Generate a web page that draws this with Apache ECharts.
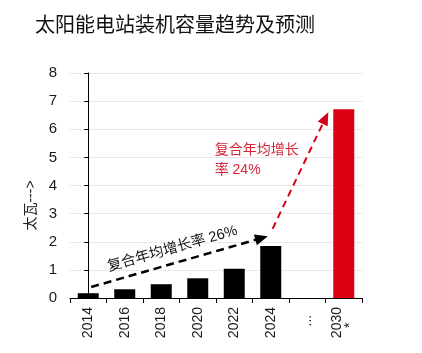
<!DOCTYPE html>
<html>
<head>
<meta charset="utf-8">
<script src="https://cdn.jsdelivr.net/npm/echarts@6/dist/echarts.min.js"></script>
<style>html,body{margin:0;padding:0;background:#fff;}#c{width:422px;height:353px;}</style>
</head>
<body>
<div id="c"></div>
<script>
var categories = ['2014', '2016', '2018', '2020', '2022', '2024', '...', '2030*'];
var capacity = [0.17, 0.31, 0.49, 0.70, 1.04, 1.85, null, 6.71];
var yTicks = [0, 1, 2, 3, 4, 5, 6, 7, 8];
var titleText = '太阳能电站装机容量趋势及预测';
var yName = '太瓦--->';
var cagrHistText = '复合年均增长率 26%';
var cagrForecastText = '复合年均增长\n率 24%';
// annotation arrows in data space: [xIndex, value]
var histArrow = [[0.08, 0.39], [4.75, 2.13]];
var forecastArrow = [[5.05, 2.46], [6.5, 6.4]];
var forecastLabelAt = [3.45, 4.91];

var chart = echarts.init(document.getElementById('c'), null, {renderer: 'canvas'});
var FONT = "'Liberation Sans', Arial, sans-serif";
var CJK = "'Noto Sans CJK SC', sans-serif";
var MIX = "'Liberation Sans', 'Noto Sans CJK SC', sans-serif";

chart.setOption({
  animation: false,
  backgroundColor: '#ffffff',
  title: {
    text: titleText, left: 35, top: 14, padding: 0,
    textStyle: {fontFamily: CJK, fontSize: 20, fontWeight: 'normal', color: '#111'}
  },
  grid: {left: 70, right: 60, top: 73, bottom: 55, containLabel: false},
  xAxis: [{
    type: 'category', data: categories,
    axisLine: {lineStyle: {color: '#000', width: 1}},
    axisTick: {show: true, length: 5, lineStyle: {color: '#000'}},
    axisLabel: {
      rotate: 90, margin: 9, fontSize: 14, fontFamily: FONT, color: '#1a1a1a', interval: 0,
      lineHeight: 13,
      formatter: function (v) {
        if (v === '2030*') return '2030\n*    ';
        if (v === '...') return '...  ';
        return v;
      }
    }
  }, {
    type: 'value', min: -0.5, max: 7.5, show: false
  }],
  yAxis: {
    type: 'value', min: yTicks[0], max: yTicks[yTicks.length - 1], interval: 1,
    name: yName, nameLocation: 'middle', nameRotate: 90, nameGap: 24,
    nameTextStyle: {fontFamily: MIX, fontSize: 14, color: '#222', padding: [0, 40, 0, 0]},
    axisLine: {show: true, lineStyle: {color: '#000', width: 1}},
    axisTick: {show: true, length: 4, lineStyle: {color: '#000'}},
    axisLabel: {margin: 13, fontSize: 15, fontFamily: FONT, color: '#1a1a1a'},
    splitLine: {show: true, lineStyle: {color: '#e8e8e8', width: 1}}
  },
  series: [{
    type: 'bar', barWidth: 21,
    data: capacity.map(function (v, i) {
      return {value: v, itemStyle: {color: i === capacity.length - 1 ? '#dc0012' : '#000000'}};
    }),
    z: 2
  }, {
    type: 'scatter', xAxisIndex: 1, data: [], silent: true,
    markLine: {
      silent: true, animation: false,
      symbol: ['none', 'triangle'], symbolSize: [11, 13],
      data: [
        [{coord: histArrow[0], lineStyle: {color: '#000', width: 2.5, type: [8, 5]},
          label: {show: true, position: 'insideMiddleTop', formatter: cagrHistText, color: '#111',
                  fontSize: 14.5, fontFamily: MIX, distance: 7}},
         {coord: histArrow[1]}],
        [{coord: forecastArrow[0], lineStyle: {color: '#d7001a', width: 2, type: [7, 5]}, label: {show: false}},
         {coord: forecastArrow[1]}]
      ],
      emphasis: {disabled: true}
    },
    markPoint: {
      silent: true, symbol: 'circle', symbolSize: 1, itemStyle: {color: 'rgba(0,0,0,0)'},
      data: [{coord: forecastLabelAt,
        label: {show: true, position: 'right', distance: 0, formatter: cagrForecastText,
                color: '#d7263a', fontSize: 14, fontFamily: MIX, lineHeight: 20, align: 'left'}}]
    }
  }]
});
</script>
</body>
</html>
